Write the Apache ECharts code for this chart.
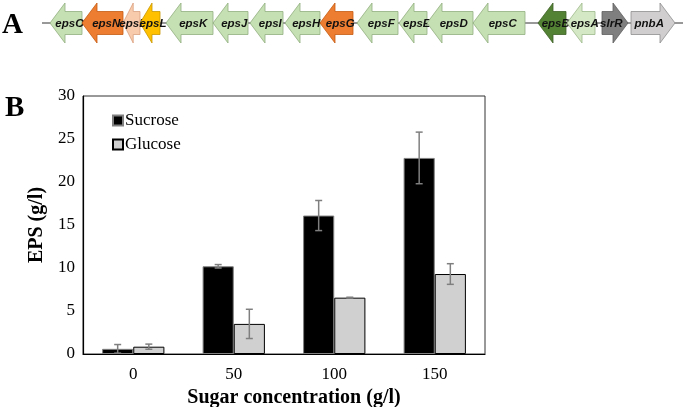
<!DOCTYPE html>
<html><head><meta charset="utf-8">
<script src="https://cdn.jsdelivr.net/npm/echarts@6/dist/echarts.min.js"></script>
<style>html,body{margin:0;padding:0;background:#fff}#c{width:685px;height:407px}</style>
</head><body><div id="c"></div>
<script>
// ---- Panel B data ----
const categories = ['0', '50', '100', '150'];
const sucrose = [0.6, 10.2, 16.1, 22.8];
const sucroseErr = [0.5, 0.2, 1.75, 3.0];
const glucose = [0.85, 3.5, 6.55, 9.3];
const glucoseErr = [0.3, 1.7, 0.05, 1.2];
const yTicks = [0, 5, 10, 15, 20, 25, 30];

// ---- Panel A data (gene cluster, positions along locus) ----
const geneNames = ['epsO','epsN','epsM','epsL','epsK','epsJ','epsI','epsH','epsG','epsF','epsE','epsD','epsC','epsB','epsA','slrR','pnbA'];
const geneStart = [50, 82, 123, 140, 166, 213, 250, 285, 320, 357, 399, 427, 473, 538, 567, 602, 631];
const geneEnd   = [82, 123, 140, 160, 213, 248, 283, 320, 353, 398, 427, 473, 525, 566, 595, 628, 675];
const geneStrand = [-1,-1,-1,-1,-1,-1,-1,-1,-1,-1,-1,-1,-1,-1,-1, 1, 1];
const locusSpan = [42, 683];

const serif = "'Liberation Serif','Times New Roman',serif";
const geneStyle = {
  epsN: ['#ED7D31', '#C55A11'], epsG: ['#ED7D31', '#C55A11'],
  epsM: ['#F8CBAD', '#D9A07F'], epsL: ['#FFC000', '#C99700'],
  epsB: ['#548235', '#3D6026'], epsA: ['#D5E8C6', '#9DB98A'],
  slrR: ['#7F7F7F', '#5E5E5E'], pnbA: ['#D0CECE', '#8E8E8E']
};
const defaultGene = ['#C5E0B3', '#92AE80'];

const genes = geneNames.map((n, i) => [geneStart[i], geneEnd[i], geneStrand[i], n]);

function geneRender(params, api) {
  const s = api.coord([api.value(0), 0.5]);
  const e = api.coord([api.value(1), 0.5]);
  const strand = api.value(2);
  const name = geneNames[params.dataIndex];
  const y = s[1];
  const x0 = s[0], x1 = e[0];
  const len = x1 - x0;
  const h = Math.min(15, len * 0.6);
  const bh = 11.5, hh = 20;
  let pts;
  if (strand < 0) {
    pts = [[x0, y], [x0 + h, y - hh], [x0 + h, y - bh], [x1, y - bh], [x1, y + bh], [x0 + h, y + bh], [x0 + h, y + hh]];
  } else {
    pts = [[x1, y], [x1 - h, y - hh], [x1 - h, y - bh], [x0, y - bh], [x0, y + bh], [x1 - h, y + bh], [x1 - h, y + hh]];
  }
  const st = geneStyle[name] || defaultGene;
  const tx = strand < 0 ? (x0 + h / 2 + x1) / 2 : (x0 + x1 - h / 2) / 2;
  return {
    type: 'group',
    children: [
      { type: 'polygon', shape: { points: pts }, style: { fill: st[0], stroke: st[1], lineWidth: 0.8 } },
      { type: 'text', style: { text: name, x: tx, y: y + 0.5, align: 'center', verticalAlign: 'middle',
          font: "italic bold 11.5px 'Liberation Sans Narrow', 'Liberation Sans', Arial, sans-serif", fill: '#111' } }
    ]
  };
}

function errRender(vals, errs, sign) {
  return function (params, api) {
    const i = api.value(0);
    const band = api.size([1, 0])[0];
    const off = sign * band * 0.155;
    const top = api.coord([i, vals[i] + errs[i]]);
    const bot = api.coord([i, Math.max(0, vals[i] - errs[i])]);
    const x = top[0] + off;
    const cw = 3.5;
    const ls = { stroke: '#7f7f7f', lineWidth: 1.5 };
    return {
      type: 'group',
      children: [
        { type: 'line', shape: { x1: x, y1: top[1], x2: x, y2: bot[1] }, style: ls },
        { type: 'line', shape: { x1: x - cw, y1: top[1], x2: x + cw, y2: top[1] }, style: ls },
        { type: 'line', shape: { x1: x - cw, y1: bot[1], x2: x + cw, y2: bot[1] }, style: ls }
      ]
    };
  };
}

const chart = echarts.init(document.getElementById('c'), null, { renderer: 'canvas' });
chart.setOption({
  animation: false,
  backgroundColor: '#fff',
  textStyle: { fontFamily: serif },
  graphic: [
    { type: 'text', left: 2, top: 11, style: { text: 'A', font: "bold 29px " + serif, fill: '#000' } },
    { type: 'text', left: 5, top: 94, style: { text: 'B', font: "bold 29px " + serif, fill: '#000' } }
  ],
  legend: {
    data: ['Sucrose', 'Glucose'],
    orient: 'vertical', left: 107, top: 107,
    itemWidth: 10, itemHeight: 10, itemGap: 7,
    icon: 'rect',
    textStyle: { fontFamily: serif, fontSize: 17, color: '#000', padding: [0, 0, 0, -3] }
  },
  grid: [
    { left: 83, right: 200, top: 96, bottom: 53, show: true, borderColor: '#333', borderWidth: 1, containLabel: false, outerBoundsMode: 'none' },
    { left: 0, right: 0, top: 1, height: 44, outerBoundsMode: 'none' }
  ],
  xAxis: [
    {
      type: 'category', data: categories, gridIndex: 0,
      axisLine: { show: true, lineStyle: { color: '#000', width: 1.2 } },
      axisTick: { show: false },
      axisLabel: { fontFamily: serif, fontSize: 17, color: '#000', margin: 12 },
      name: 'Sugar concentration (g/l)', nameLocation: 'middle', nameGap: 31,
      nameTextStyle: { fontFamily: serif, fontSize: 20, fontWeight: 'bold', color: '#000', padding: [0, 0, 0, 20] }
    },
    { type: 'value', gridIndex: 1, min: 0, max: 685, show: false }
  ],
  yAxis: [
    {
      type: 'value', gridIndex: 0, min: yTicks[0], max: yTicks[yTicks.length - 1], interval: 5,
      axisLine: { show: true, lineStyle: { color: '#000', width: 1.2 } },
      axisTick: { show: false },
      splitLine: { show: false },
      axisLabel: { fontFamily: serif, fontSize: 17, color: '#000', margin: 8 },
      name: 'EPS (g/l)', nameLocation: 'middle', nameGap: 32, nameRotate: 90,
      nameTextStyle: { fontFamily: serif, fontSize: 20, fontWeight: 'bold', color: '#000' }
    },
    { type: 'value', gridIndex: 1, min: 0, max: 1, show: false }
  ],
  series: [
    {
      name: 'Sucrose', type: 'bar', data: sucrose, xAxisIndex: 0, yAxisIndex: 0,
      barCategoryGap: '38%', barGap: '0%',
      itemStyle: { color: '#000', borderColor: '#808080', borderWidth: 1 }
    },
    {
      name: 'Glucose', type: 'bar', data: glucose, xAxisIndex: 0, yAxisIndex: 0,
      barCategoryGap: '38%', barGap: '0%',
      itemStyle: { color: '#D0D0D0', borderColor: '#000', borderWidth: 1 }
    },
    {
      type: 'custom', xAxisIndex: 0, yAxisIndex: 0, z: 5,
      data: categories.map((c, i) => [i, sucrose[i]]),
      renderItem: errRender(sucrose, sucroseErr, -1), silent: true
    },
    {
      type: 'custom', xAxisIndex: 0, yAxisIndex: 0, z: 5,
      data: categories.map((c, i) => [i, glucose[i]]),
      renderItem: errRender(glucose, glucoseErr, 1), silent: true
    },
    {
      type: 'line', xAxisIndex: 1, yAxisIndex: 1, z: 1,
      data: [[locusSpan[0], 0.5], [locusSpan[1], 0.5]],
      symbol: 'none', lineStyle: { color: '#333', width: 1 }, silent: true
    },
    {
      type: 'custom', xAxisIndex: 1, yAxisIndex: 1, z: 3,
      data: genes, renderItem: geneRender, silent: true
    }
  ]
});
</script>
</body></html>
